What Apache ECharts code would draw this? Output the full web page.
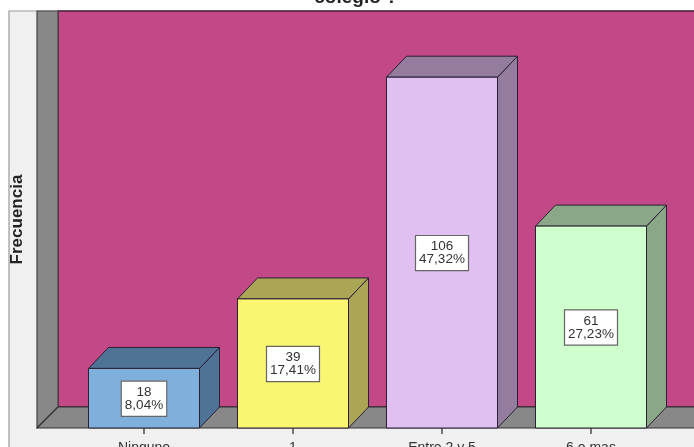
<!DOCTYPE html>
<html>
<head>
<meta charset="utf-8">
<style>
html,body{margin:0;padding:0;background:#fff;overflow:hidden}
#c{width:694px;height:447px;filter:blur(0.45px)}
</style>
<script src="https://cdn.jsdelivr.net/npm/echarts@6/dist/echarts.min.js"></script>
</head>
<body>
<div id="c"></div>
<script>
const titleText = 'colegio ?';
const yName = 'Frecuencia';
const categories = ['Ninguno', '1', 'Entre 2 y 5', '6 o mas'];
const counts = [18, 39, 106, 61];
const percents = ['8,04%', '17,41%', '47,32%', '27,23%'];
const frontColors = ['#7fb0dc', '#fbf671', '#dfc0f0', '#cfffcc'];
const sideColors = ['#4f7396', '#aba656', '#937c9d', '#8aa888'];
const topColors = ['#4f7396', '#aba656', '#937c9d', '#8aa888'];

const DX = 20, DY = 21;
const FONT = '"Liberation Sans", Arial, sans-serif';
const edge = '#2b2033';

const chart = echarts.init(document.getElementById('c'), null, {renderer: 'canvas'});

function poly(points, fill, z2, stroke, lw) {
  return {type: 'polygon', z2: z2, shape: {points: points},
    style: {fill: fill, stroke: stroke || edge, lineWidth: lw === undefined ? 1 : lw, lineJoin: 'round'}};
}

function renderWalls(params, api) {
  const g = params.coordSys;
  const base = g.y + g.height, top = g.y;
  const axisX = 37, panelX = 9, W = 694, H = 447;
  return {type: 'group', children: [
    {type: 'rect', z2: 0, shape: {x: panelX, y: top, width: W - panelX + 2, height: H - top + 2},
      style: {fill: '#f0f0f0', stroke: '#9a9a9a', lineWidth: 1.2}},
    poly([[axisX + DX + 1, top], [W + 2, top], [W + 2, base - DY], [axisX + DX + 1, base - DY]], '#c24887', 1, '#4a1f3c', 1.4),
    poly([[axisX, top], [axisX + DX + 1, top], [axisX + DX + 1, base - DY], [axisX, base]], '#888888', 2, '#444', 1.2),
    poly([[axisX, base], [axisX + DX + 1, base - DY], [W + 2, base - DY], [W + 2, base]], '#888888', 2, '#333', 1.2)
  ]};
}

function renderBar(params, api) {
  const i = api.value(0);
  const p = api.coord([i, api.value(1)]);
  const b = api.coord([i, 0]);
  const w = api.size([1, 0])[0] * 0.745;
  const x0 = p[0] - w / 2, x1 = p[0] + w / 2;
  const yt = p[1], yb = b[1];
  return {type: 'group', children: [
    poly([[x1, yt], [x1 + DX, yt - DY], [x1 + DX, yb - DY], [x1, yb]], sideColors[i], 3),
    poly([[x0, yt], [x0 + DX, yt - DY], [x1 + DX, yt - DY], [x1, yt]], topColors[i], 3),
    poly([[x0, yt], [x1, yt], [x1, yb], [x0, yb]], frontColors[i], 4),
    {type: 'line', z2: 4, shape: {x1: p[0], y1: yb, x2: p[0], y2: yb + 6},
     style: {stroke: '#333', lineWidth: 1.3}},
    {type: 'text', z2: 5, style: {
      x: p[0], y: (yt + yb) / 2 + 0.5,
      text: counts[i] + '\n' + percents[i],
      align: 'center', verticalAlign: 'middle',
      font: '13.5px ' + FONT, lineHeight: 13, fill: '#333',
      backgroundColor: '#fff', borderColor: '#666', borderWidth: 1.2,
      padding: [4, 3, 4, 3]
    }}
  ]};
}

chart.setOption({
  animation: false,
  backgroundColor: '#ffffff',
  title: {
    text: titleText, left: 351, top: -17, textAlign: 'center',
    textStyle: {fontFamily: FONT, fontSize: 19, fontWeight: 'bold', color: '#222'}
  },
  grid: {left: 69.5, top: 11, width: 596, height: 417, containLabel: false, outerBoundsMode: 'none'},
  xAxis: {
    type: 'category', data: categories, z: 10,
    axisLine: {show: false},
    axisTick: {show: false},
    axisLabel: {fontFamily: FONT, fontSize: 14, color: '#333', margin: 13, interval: 0, hideOverlap: false}
  },
  yAxis: {
    type: 'value', min: 0, max: 126, z: 10,
    name: yName, nameLocation: 'middle', nameGap: 44, nameRotate: 90,
    nameTextStyle: {fontFamily: FONT, fontSize: 17, fontWeight: 'bold', color: '#222'},
    axisLine: {show: false}, axisTick: {show: false}, axisLabel: {show: false}, splitLine: {show: false}
  },
  series: [
    {type: 'custom', z: 1, silent: true, clip: false, renderItem: renderWalls, data: [0]},
    {type: 'custom', z: 2, silent: true, clip: false, renderItem: renderBar,
     encode: {x: 0, y: 1},
     data: counts.map((v, i) => [i, v])}
  ]
});
</script>
</body>
</html>
